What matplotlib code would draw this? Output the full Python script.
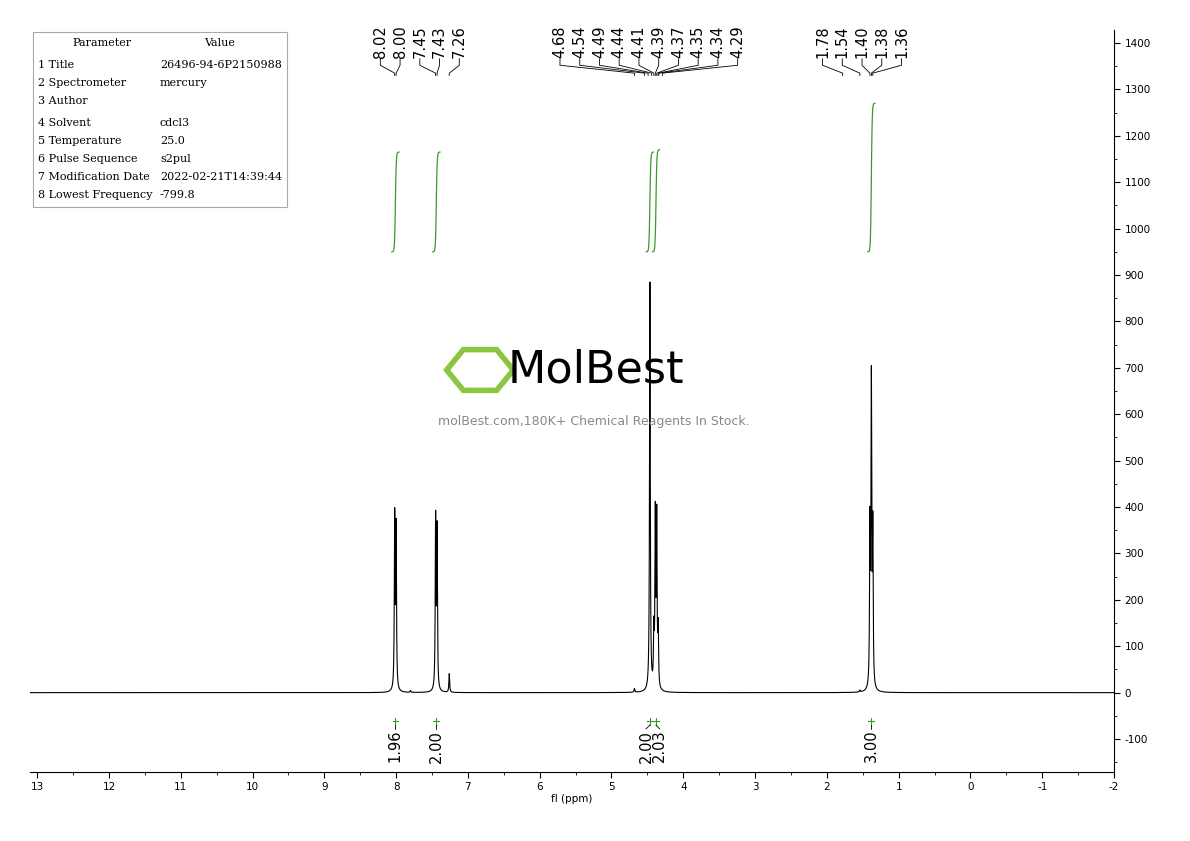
import numpy as np
import matplotlib.pyplot as plt
from matplotlib.patches import RegularPolygon
import matplotlib.ticker as mticker

# peak positions (ppm) and heights
peak_ppm = [8.02, 8.00, 7.45, 7.43, 7.26, 4.465, 4.41, 4.39, 4.37, 4.35, 1.40, 1.38, 1.36, 4.68, 1.54, 7.80]
peak_h = [370, 345, 365, 340, 40, 880, 115, 365, 360, 120, 340, 650, 330, 8, 4, 4]

label_groups = [
    ["8.02", "8.00", "7.45", "7.43", "7.26"],
    ["4.68", "4.54", "4.49", "4.44", "4.41", "4.39", "4.37", "4.35", "4.34", "4.29"],
    ["1.78", "1.54", "1.40", "1.38", "1.36"],
]
group_center = [7.67, 4.48, 1.51]

integ_ppm = [8.01, 7.44, 4.465, 4.38, 1.38]
integ_vals = ["1.96", "2.00", "2.00", "2.03", "3.00"]
integ_top = [1165, 1165, 1165, 1170, 1270]
integ_label_ppm = [8.01, 7.44, 4.52, 4.33, 1.38]

params = ["1 Title", "2 Spectrometer", "3 Author", "4 Solvent", "5 Temperature",
          "6 Pulse Sequence", "7 Modification Date", "8 Lowest Frequency"]
values = ["26496-94-6P2150988", "mercury", "", "cdcl3", "25.0", "s2pul",
          "2022-02-21T14:39:44", "-799.8"]

fig = plt.figure(figsize=(11.9, 8.41), dpi=100)
ax = fig.add_axes([30/1190, 69/841, 1084/1190, 742/841])
ax.set_xlim(13.1, -2.0)
ax.set_ylim(-171, 1428)

x = np.linspace(13.1, -2.0, 40000)
y = np.zeros_like(x)
w = 0.006
for p, h in zip(peak_ppm, peak_h):
    y += h * w**2 / ((x - p)**2 + w**2)
ax.plot(x, y, color="black", lw=0.8)

# integral curves
green = "#3a9a2a"
for p, top in zip(integ_ppm, integ_top):
    xs = np.linspace(p - 0.05, p + 0.05, 100)
    ys = 950 + (top - 950) * (0.5 - 0.5 * np.tanh((xs - p) / 0.012))
    ax.plot(xs, ys, color=green, lw=0.9)

for p, lp, v in zip(integ_ppm, integ_label_ppm, integ_vals):
    ax.plot([p, p], [-70, -55], color=green, lw=0.8)
    ax.plot([p - 0.04, p + 0.04], [-62, -62], color=green, lw=0.8)
    ax.plot([p, lp], [-70, -78], color="black", lw=0.6)
    ax.text(lp, -80, v, rotation=90, ha="center", va="top", fontsize=10.5)

# peak labels
step = 0.275
for labels, c in zip(label_groups, group_center):
    n = len(labels)
    for i, lab in enumerate(labels):
        lx = c + (n - 1) / 2 * step - i * step
        px = float(lab)
        ax.text(lx, 1368, lab, rotation=90, ha="center", va="bottom", fontsize=10.5)
        ax.plot([lx, lx, px, px], [1366, 1352, 1335, 1330], color="black", lw=0.6)

# axes styling
for s in ["top", "left"]:
    ax.spines[s].set_visible(False)
ax.yaxis.tick_right()
ax.set_yticks(np.arange(-100, 1401, 100))
ax.set_yticks(np.arange(-150, 1401, 50), minor=True)
ax.yaxis.set_major_formatter(mticker.FuncFormatter(lambda v, _: f"{int(v)}"))
ax.set_xticks(np.arange(-2, 14, 1))
ax.set_xticks(np.arange(-2, 13.1, 0.5), minor=True)
ax.set_xticklabels([str(v) for v in range(-2, 14)])
ax.tick_params(labelsize=7.5, length=4)
ax.tick_params(which="minor", length=2)
ax.set_xlabel("fl (ppm)", fontsize=7.5, labelpad=1)

# parameter table
fig.patches.append(plt.Rectangle((33/1190, 1 - 207/841), 254/1190, 175/841,
                                 transform=fig.transFigure, fill=False,
                                 edgecolor="#aaaaaa", lw=0.8))
fig.text(102/1190, 1 - 43/841, "Parameter", ha="center", va="center",
         fontsize=8, family="DejaVu Serif")
fig.text(220/1190, 1 - 43/841, "Value", ha="center", va="center",
         fontsize=8, family="DejaVu Serif")
rows_y = [65, 83, 101, 123, 141, 159, 177, 195]
for ry, pname, val in zip(rows_y, params, values):
    fig.text(38/1190, 1 - ry/841, pname, va="center", fontsize=8, family="DejaVu Serif")
    fig.text(160/1190, 1 - ry/841, val, va="center", fontsize=8, family="DejaVu Serif")

# watermark
ly = 1 - 370/841
fig.patches.append(RegularPolygon((480/1190, ly), 6, radius=0.028, orientation=np.pi/6,
                                  transform=fig.transFigure, fill=False,
                                  edgecolor="#8cc63f", lw=4))
fig.text(508/1190, ly, "MolBest", fontsize=32, va="center", color="black")
fig.text(594/1190, 1 - 421/841, "molBest.com,180K+ Chemical Reagents In Stock.",
         ha="center", va="center", fontsize=9, color="#888888")

fig.savefig("out.png", dpi=100)
